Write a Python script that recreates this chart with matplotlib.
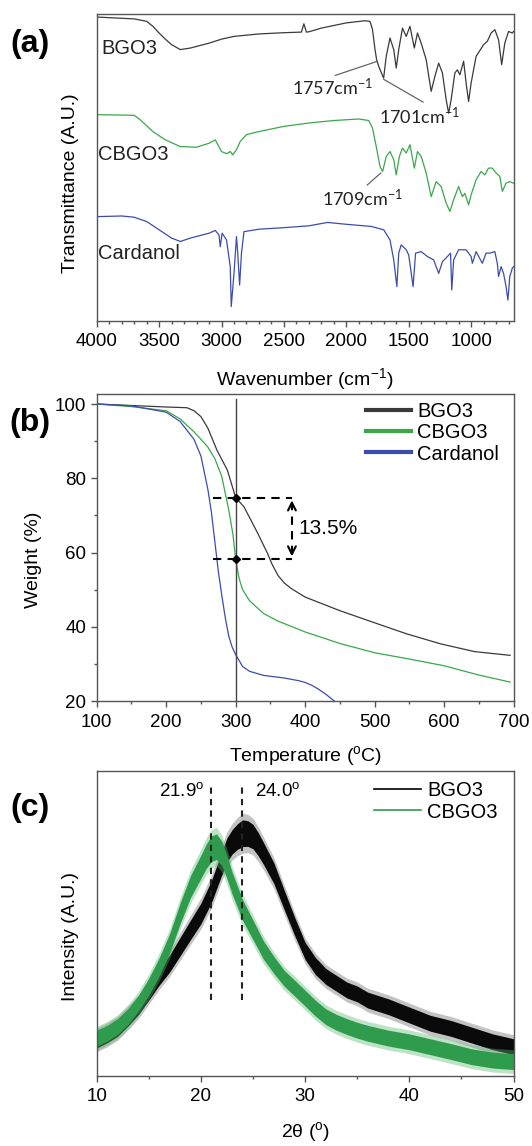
import matplotlib
matplotlib.use("Agg")
import matplotlib.pyplot as plt
import numpy as np
from matplotlib.ticker import MultipleLocator

plt.rcParams['font.family'] = ['Liberation Sans', 'DejaVu Sans']
plt.rcParams['mathtext.default'] = 'regular'

# ---------------- (a) FTIR (arbitrary transmittance units) ----------
bgo3_wn = [4000, 3700, 3600, 3550, 3500, 3450, 3400, 3330, 3250, 3100, 3000, 2900, 2700,
           2500, 2360, 2340, 2320, 2300, 2200, 2000, 1850, 1810, 1790, 1770, 1757, 1740,
           1701, 1680, 1650, 1620, 1600, 1580, 1550, 1520, 1490, 1455, 1430, 1400, 1360,
           1320, 1290, 1260, 1230, 1200, 1180, 1160, 1130, 1110, 1090, 1060, 1040, 1020,
           1000, 960, 900, 870, 840, 810, 780, 755, 730, 700, 670, 660]
bgo3_t = [99.0, 98.4, 97.6, 96.0, 93.8, 91.8, 90.0, 88.4, 88.9, 90.5, 91.8, 92.7, 93.5,
          93.9, 94.1, 96.8, 94.1, 94.2, 95.4, 97.1, 97.8, 97.6, 94.9, 88.4, 85.1, 82.9,
          79.1, 86.2, 92.2, 88.4, 82.4, 88.4, 95.4, 92.7, 96.0, 88.9, 93.8, 90.5, 85.1,
          74.8, 79.7, 84.0, 80.8, 72.1, 67.7, 72.1, 80.8, 81.8, 80.2, 84.6, 77.5, 71.5,
          77.5, 86.2, 90.0, 91.1, 93.8, 94.9, 91.6, 83.5, 90.5, 94.3, 93.8, 94.3]

cbgo3_wn = [4000, 3700, 3650, 3550, 3450, 3330, 3200, 3100, 3050, 3000, 2960, 2930, 2910,
            2880, 2850, 2800, 2700, 2500, 2300, 2100, 1900, 1820, 1790, 1760, 1730, 1709,
            1680, 1650, 1620, 1600, 1575, 1550, 1520, 1490, 1455, 1430, 1400, 1360, 1320,
            1280, 1240, 1200, 1170, 1140, 1100, 1070, 1050, 1020, 1000, 960, 920, 890, 860,
            830, 800, 770, 750, 720, 690, 660]
cbgo3_t = [67.2, 67.0, 65.5, 61.7, 59.0, 56.8, 56.6, 57.9, 59.0, 55.2, 54.5, 55.2, 54.1,
           55.8, 58.5, 60.7, 61.7, 63.4, 64.5, 65.3, 65.8, 65.3, 62.8, 56.8, 50.3, 48.7,
           53.6, 55.2, 52.5, 47.6, 53.6, 56.3, 54.7, 57.4, 49.8, 55.2, 53.6, 48.2, 40.5,
           45.4, 43.8, 38.4, 35.7, 39.5, 43.8, 40.5, 41.6, 37.8, 41.1, 46.0, 48.7, 47.6, 49.8,
           49.8, 48.2, 47.1, 42.2, 44.9, 45.4, 44.9]

card_wn = [4000, 3800, 3700, 3600, 3500, 3400, 3330, 3250, 3100, 3050, 3020, 3010, 2995,
           2960, 2930, 2922, 2900, 2880, 2870, 2855, 2840, 2820, 2700, 2500, 2300, 2150,
           2000, 1800, 1700, 1650, 1620, 1595, 1580, 1560, 1520, 1500, 1465, 1445, 1400,
           1350, 1300, 1260, 1230, 1190, 1165, 1155, 1140, 1100, 1040, 1000, 990, 960, 910,
           880, 850, 810, 790, 780, 760, 740, 720, 705, 690, 670, 660]
card_t = [34.0, 34.2, 33.8, 32.4, 29.7, 27.0, 25.9, 27.0, 28.6, 29.5, 28.0, 24.2, 28.6,
          26.4, 17.7, 4.7, 15.5, 27.5, 22.1, 11.7, 22.1, 29.1, 29.9, 30.4, 31.0, 32.1,
          31.5, 30.8, 29.7, 26.4, 19.9, 11.2, 22.1, 24.8, 23.2, 21.5, 11.2, 22.1, 22.6,
          21.0, 19.9, 15.5, 19.3, 21.0, 22.1, 10.1, 19.9, 23.2, 23.2, 21.0, 18.8, 22.6, 18.8,
          22.1, 22.1, 22.6, 18.8, 14.5, 17.7, 15.5, 11.2, 6.8, 14.5, 17.2, 17.7]

# ---------------- (b) TGA ----------------
bgo3_T = [100, 150, 200, 230, 240, 250, 260, 273, 288, 300, 312, 332, 346, 352, 361, 370,
          380, 400, 449, 498, 546, 595, 644, 695]
bgo3_w = [100, 99.6, 99.2, 99.0, 98.2, 96.6, 93.5, 87.6, 82.2, 74.8, 72.3, 65.1, 59.7,
          57.0, 53.8, 51.8, 50.3, 48.0, 44.4, 41.2, 38.1, 35.4, 33.3, 32.3]
cbgo3_T = [100, 150, 200, 220, 240, 250, 260, 270, 280, 290, 296, 300, 305, 310, 320, 340,
           360, 400, 450, 500, 550, 600, 650, 695]
cbgo3_w = [100, 99.3, 98.2, 96.0, 92.5, 90.5, 88.4, 85.3, 80.5, 71.5, 65.0, 58.2, 53.0,
           50.0, 47.0, 43.6, 41.6, 38.6, 35.5, 33.0, 31.3, 29.5, 27.0, 25.1]
card_T = [100, 150, 200, 220, 240, 250, 260, 265, 270, 275, 280, 285, 290, 295, 300, 310,
          320, 340, 370, 390, 400, 410, 420, 430, 440, 445]
card_w = [100, 99.5, 97.8, 95.3, 90.5, 86.0, 77.0, 71.0, 63.0, 55.0, 48.5, 42.5, 37.5,
          34.5, 32.5, 29.3, 28.0, 26.9, 26.2, 25.5, 25.0, 24.2, 23.1, 21.8, 20.3, 19.5]
w_hi, w_lo = 74.8, 58.2

# ---------------- (c) XRD: band centre and noise half-width ----------
bgo3_2th = [10, 11, 12, 13, 14, 15, 16, 17, 18, 19, 20, 21, 22, 22.5, 23, 23.5, 24, 24.5,
            25, 25.5, 26, 27, 28, 29, 30, 31, 32, 33, 34, 35, 36, 38, 40, 42, 44, 46, 48, 50]
bgo3_int = [11.8, 13.5, 15.6, 19.0, 22.7, 27.5, 32.6, 36.9, 42.4, 47.9, 53.3, 60.4, 69.7,
            74.1, 76.8, 78.5, 79.6, 79.5, 78.5, 76.0, 73.0, 66.5, 57.7, 49.0, 41.0, 36.0,
            32.6, 30.4, 28.2, 26.9, 24.9, 22.7, 20.0, 17.3, 15.6, 13.4, 11.2, 9.6]
bgo3_noise = [2.6, 2.6, 2.6, 2.6, 2.6, 2.6, 2.8, 2.8, 3.0, 3.2, 3.4, 3.6, 3.8, 4.0, 4.0,
              4.2, 4.4, 4.2, 4.0, 3.8, 3.6, 3.4, 3.2, 3.0, 2.8, 2.8, 2.6, 2.6, 2.6, 2.6, 2.6,
              2.6, 2.6, 2.6, 2.6, 2.6, 2.6, 2.6]
cbgo3_2th = [10, 11, 12, 13, 14, 15, 16, 17, 18, 19, 20, 20.5, 21, 21.5, 22, 22.5, 23, 24,
             25, 26, 27, 28, 29, 30, 31, 32, 33, 34, 35, 36, 38, 40, 42, 44, 46, 48, 50]
cbgo3_int = [12.4, 14.0, 16.2, 19.5, 23.8, 29.3, 35.8, 43.5, 53.3, 62.1, 68.6, 72.0, 74.5,
             75.2, 73.0, 68.5, 63.2, 54.4, 47.9, 41.3, 36.4, 32.0, 28.8, 25.5, 22.2, 19.4,
             17.6, 16.2, 15.0, 14.0, 12.4, 11.2, 9.6, 8.0, 6.3, 5.2, 4.7]
cbgo3_noise = [2.6, 2.6, 2.6, 2.6, 2.6, 2.8, 3.0, 3.2, 3.4, 3.6, 3.8, 4.0, 4.2, 4.2, 4.0,
               3.8, 3.6, 3.4, 3.2, 3.0, 2.8, 2.6, 2.6, 2.6, 2.6, 2.6, 2.6, 2.6, 2.6, 2.6,
               2.6, 2.6, 2.6, 2.6, 2.6, 2.6, 2.6]
peak_pos = [21.0, 23.9]
peak_txt = ['21.9$^{o}$', '24.0$^{o}$']

frame = '#555555'
c_blk = '#3a3a3a'
c_grn = '#3aa84a'
c_blu = '#3b4cae'
c_xgrn = '#2f9c4d'
TICK = 13.5
LAB = 14


def style(ax):
    for s in ax.spines.values():
        s.set_color(frame)
        s.set_linewidth(1.0)
    ax.tick_params(which='both', direction='out', color=frame, top=False, right=False,
                   labelsize=TICK)
    ax.tick_params(which='major', length=4, width=1)
    ax.tick_params(which='minor', length=2.3, width=1)
    ax.tick_params(axis='x', pad=5)
    ax.tick_params(axis='y', pad=3.6)


fig = plt.figure(figsize=(5.32, 11.46), dpi=100)
L, W = 0.1818, 0.7835
ax1 = fig.add_axes([L, 0.7199, W, 0.2679])
ax2 = fig.add_axes([L, 0.3883, W, 0.2679])
ax3 = fig.add_axes([L, 0.0611, W, 0.2661])

# (a)
ax1.plot(bgo3_wn, bgo3_t, color=c_blk, lw=0.9)
ax1.plot(cbgo3_wn, cbgo3_t, color=c_grn, lw=0.9)
ax1.plot(card_wn, card_t, color=c_blu, lw=0.9)
ax1.set_xlim(4000, 660)
ax1.set_ylim(0, 100)
ax1.set_yticks([])
ax1.xaxis.set_major_locator(MultipleLocator(500))
ax1.xaxis.set_minor_locator(MultipleLocator(100))
style(ax1)
ax1.text(3965, 88.9, 'BGO3', fontsize=14.5, va='center', color='#222')
ax1.text(3990, 54.1, 'CBGO3', fontsize=14.5, va='center', color='#222')
ax1.text(3990, 22.1, 'Cardanol', fontsize=14.5, va='center', color='#222')
ann = dict(fontsize=13, family=['Lato', 'DejaVu Sans'], va='center', color='#222')
ax1.text(2436, 75.9, '1757cm$^{-1}$', **ann)
ax1.plot([2088, 1758], [80.0, 84.5], color='#666', lw=0.9)
ax1.text(1741, 66.5, '1701cm$^{-1}$', **ann)
ax1.plot([1700, 1385], [78.7, 71.3], color='#666', lw=0.9)
ax1.text(2192, 40.0, '1709cm$^{-1}$', **ann)
ax1.plot([1832, 1724], [44.3, 48.2], color='#666', lw=0.9)
ax1.set_xlabel('Wavenumber (cm$^{-1}$)', fontsize=LAB)
ax1.xaxis.set_label_coords(0.5, -0.148)
ax1.set_ylabel('Transmittance (A.U.)', fontsize=LAB)
ax1.yaxis.set_label_coords(-0.042, 0.45)

# (b)
ax2.plot(bgo3_T, bgo3_w, color=c_blk, lw=0.9, label='BGO3')
ax2.plot(cbgo3_T, cbgo3_w, color=c_grn, lw=0.9, label='CBGO3')
ax2.plot(card_T, card_w, color=c_blu, lw=0.9, label='Cardanol')
ax2.axvline(300, ymax=0.985, color='#444', lw=1)
ax2.plot([268, 381], [w_hi, w_hi], color='k', lw=1.5, dashes=(4, 3))
ax2.plot([268, 381], [w_lo, w_lo], color='k', lw=1.5, dashes=(4, 3))
ax2.plot([381, 381], [w_lo + 1.5, w_hi - 1.5], color='k', lw=1.5, dashes=(4, 3))
ax2.annotate('', xy=(381, w_hi), xytext=(381, w_hi - 3),
             arrowprops=dict(arrowstyle='->', lw=1.5, color='k', mutation_scale=14))
ax2.annotate('', xy=(381, w_lo), xytext=(381, w_lo + 3),
             arrowprops=dict(arrowstyle='->', lw=1.5, color='k', mutation_scale=14))
ax2.plot([300, 300], [w_hi, w_lo], 'kD', ms=4.5)
ax2.text(390, 66.5, '13.5%', fontsize=15, va='center')
ax2.set_xlim(100, 700)
ax2.set_ylim(20, 102.7)
ax2.xaxis.set_major_locator(MultipleLocator(100))
ax2.xaxis.set_minor_locator(MultipleLocator(50))
ax2.yaxis.set_major_locator(MultipleLocator(20))
ax2.yaxis.set_minor_locator(MultipleLocator(10))
style(ax2)
leg = ax2.legend(loc='upper left', bbox_to_anchor=(0.646, 0.975), frameon=False,
                 fontsize=14.5, handlelength=2.25, handletextpad=0.3, labelspacing=0.12,
                 borderpad=0, borderaxespad=0)
for h in leg.get_lines():
    h.set_linewidth(3)
ax2.set_xlabel('Temperature ($^{o}$C)', fontsize=LAB)
ax2.xaxis.set_label_coords(0.5, -0.14)
ax2.set_ylabel('Weight (%)', fontsize=LAB)
ax2.yaxis.set_label_coords(-0.131, 0.46)

# (c)
b_c = np.array(bgo3_int)
b_n = np.array(bgo3_noise)
g_c = np.array(cbgo3_int)
g_n = np.array(cbgo3_noise)
ax3.fill_between(bgo3_2th, b_c - 1.5 * b_n, b_c + 1.5 * b_n, color='#555555', alpha=0.35,
                 lw=0)
ax3.fill_between(bgo3_2th, b_c - b_n, b_c + b_n, color='#0a0a0a', lw=0)
ax3.fill_between(cbgo3_2th, g_c - 1.5 * g_n, g_c + 1.5 * g_n, color='#5cb870', alpha=0.4,
                 lw=0)
ax3.fill_between(cbgo3_2th, g_c - g_n, g_c + g_n, color=c_xgrn, lw=0)
ax3.plot([], [], color='k', lw=1.2, label='BGO3')
ax3.plot([], [], color=c_xgrn, lw=1.2, label='CBGO3')
for p in peak_pos:
    ax3.plot([p, p], [24.9, 95.4], color='#222', lw=1.5, dashes=(3, 2.5))
ax3.text(20.3, 93.5, peak_txt[0], fontsize=13.5, ha='right', va='center')
ax3.text(25.2, 93.5, peak_txt[1], fontsize=13.5, ha='left', va='center')
ax3.set_xlim(10, 50)
ax3.set_ylim(0, 100)
ax3.set_yticks([])
ax3.xaxis.set_major_locator(MultipleLocator(10))
ax3.xaxis.set_minor_locator(MultipleLocator(5))
style(ax3)
ax3.legend(loc='upper left', bbox_to_anchor=(0.665, 0.967), frameon=False, fontsize=14.5,
           handlelength=2.35, handletextpad=0.3, labelspacing=0.12, borderpad=0,
           borderaxespad=0)
ax3.set_xlabel('2\u03b8 ($^{o}$)', fontsize=LAB)
ax3.xaxis.set_label_coords(0.5, -0.145)
ax3.set_ylabel('Intensity (A.U.)', fontsize=LAB)
ax3.yaxis.set_label_coords(-0.042, 0.457)

# panel letters
for y, s in [(44, '(a)'), (423, '(b)'), (808, '(c)')]:
    fig.text(30 / 532, 1 - y / 1146, s, fontsize=23, fontweight='bold', ha='center',
             va='center')

fig.savefig('out.png', dpi=100)
